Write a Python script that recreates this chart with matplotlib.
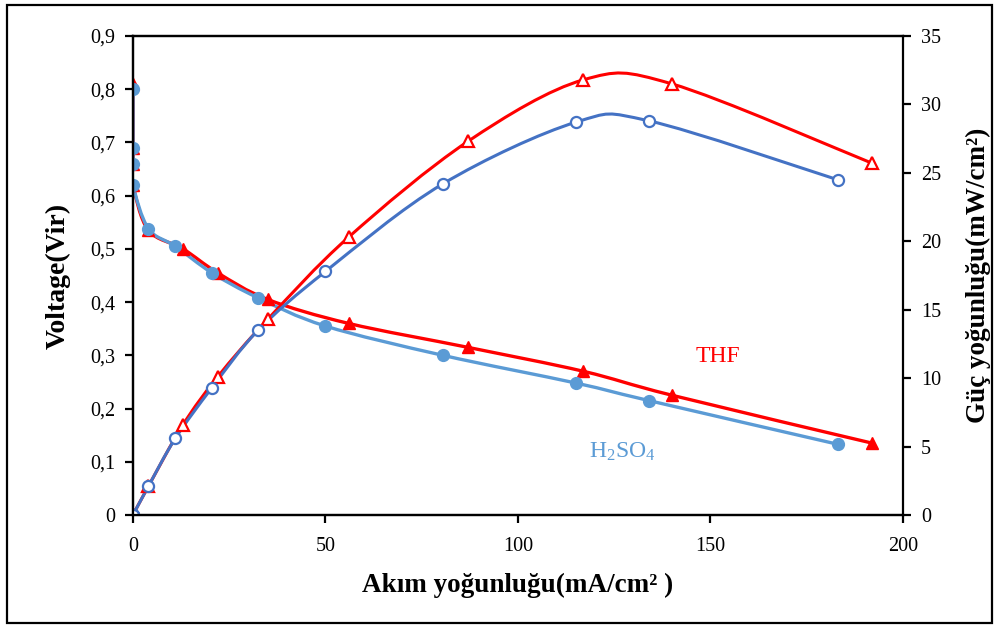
import matplotlib
matplotlib.use("Agg")
import matplotlib.pyplot as plt
import numpy as np
from matplotlib.path import Path
from matplotlib.patches import PathPatch, Rectangle

# THF data
thf_current = [0, 0, 0, 0, 4, 13, 22, 35, 56, 87, 117, 140, 192]
thf_voltage = [0.81, 0.69, 0.66, 0.62, 0.535, 0.50, 0.455, 0.405, 0.36, 0.315, 0.27, 0.225, 0.135]
thf_power = [0, 0, 0, 0, 2.1, 6.6, 10.1, 14.3, 20.3, 27.3, 31.8, 31.5, 25.7]

# H2SO4 data
h2_current = [0, 0, 0, 0, 4, 11, 20.5, 32.5, 50, 80.5, 115, 134, 183]
h2_voltage = [0.80, 0.69, 0.66, 0.62, 0.538, 0.505, 0.455, 0.408, 0.355, 0.30, 0.248, 0.215, 0.133]
h2_power = [0, 0, 0, 0, 2.1, 5.6, 9.3, 13.5, 17.8, 24.2, 28.7, 28.8, 24.5]

v_ticks = np.arange(0, 0.91, 0.1)
p_ticks = np.arange(0, 36, 5)
x_ticks = np.arange(0, 201, 50)

RED = '#FF0000'
LBLUE = '#5B9BD5'
DBLUE = '#4472C4'

plt.rcParams['font.family'] = ['Liberation Serif', 'DejaVu Serif']
plt.rcParams['mathtext.fontset'] = 'custom'
plt.rcParams['mathtext.rm'] = 'Liberation Serif'
plt.rcParams['mathtext.it'] = 'Liberation Serif:italic'
plt.rcParams['mathtext.bf'] = 'Liberation Serif:bold'
plt.rcParams['mathtext.default'] = 'regular'


def smooth_line(ax, xs, ys, color, lw):
    # Excel-like smoothed line: cubic bezier through the points
    pts = np.column_stack([xs, ys]).astype(float)
    n = len(pts)
    verts = [pts[0]]
    codes = [Path.MOVETO]
    for i in range(n - 1):
        p0 = pts[max(i - 1, 0)]
        p1 = pts[i]
        p2 = pts[i + 1]
        p3 = pts[min(i + 2, n - 1)]
        verts += [p1 + (p2 - p0) / 6, p2 - (p3 - p1) / 6, p2]
        codes += [Path.CURVE4] * 3
    patch = PathPatch(Path(verts, codes), facecolor='none', edgecolor=color,
                      lw=lw, capstyle='round', joinstyle='round')
    ax.add_patch(patch)


fig = plt.figure(figsize=(9.97, 6.26), dpi=100)
ax = fig.add_axes([0.1334, 0.1773, 0.7723, 0.7652])
ax2 = ax.twinx()

# voltage curves (left axis)
smooth_line(ax, thf_current, thf_voltage, RED, 2.4)
ax.plot(thf_current, thf_voltage, linestyle='none', marker='^', ms=8.5,
        color=RED)
smooth_line(ax, h2_current, h2_voltage, LBLUE, 2.4)
ax.plot(h2_current, h2_voltage, linestyle='none', marker='o', ms=8.5,
        color=LBLUE)

# power curves (right axis)
smooth_line(ax2, thf_current, thf_power, RED, 2.2)
ax2.plot(thf_current, thf_power, linestyle='none', marker='^', ms=9,
         mfc='white', mec=RED, mew=1.6)
smooth_line(ax2, h2_current, h2_power, DBLUE, 2.2)
ax2.plot(h2_current, h2_power, linestyle='none', marker='o', ms=8,
         mfc='white', mec=DBLUE, mew=1.6)

ax.set_xlim(0, 200)
ax.set_ylim(0, 0.9)
ax2.set_ylim(0, 35)
ax.set_xticks(x_ticks)
ax.set_yticks(v_ticks)
ax.set_yticklabels([('%.1f' % v).replace('.', ',') if v > 0 else '0' for v in v_ticks])
ax2.set_yticks(p_ticks)

for a in (ax, ax2):
    for s in a.spines.values():
        s.set_linewidth(1.6)
    a.tick_params(direction='out', length=6, width=1.6, labelsize=14.5, pad=7)
ax.tick_params(axis='x', pad=10)
ax.spines['right'].set_visible(False)

ax.set_xlabel('Akım yoğunluğu(mA/cm² )', fontsize=19.5, fontweight='bold',
              labelpad=12)
ax.set_ylabel('Voltage(Vir)', fontsize=20, fontweight='bold', labelpad=14)
ax2.set_ylabel('Güç yoğunluğu(mW/cm²)', fontsize=19.5, fontweight='bold',
               labelpad=18)

ax.text(152, 0.297, 'THF', color=RED, fontsize=17, ha='center', va='center')
ax.text(127, 0.118, 'H$_2$SO$_4$', color=LBLUE, fontsize=17, ha='center',
        va='center')

fig.add_artist(Rectangle((0.007, 0.004), 0.988, 0.988, transform=fig.transFigure,
                         fill=False, edgecolor='black', lw=1.6))

fig.savefig('out.png', dpi=100)
